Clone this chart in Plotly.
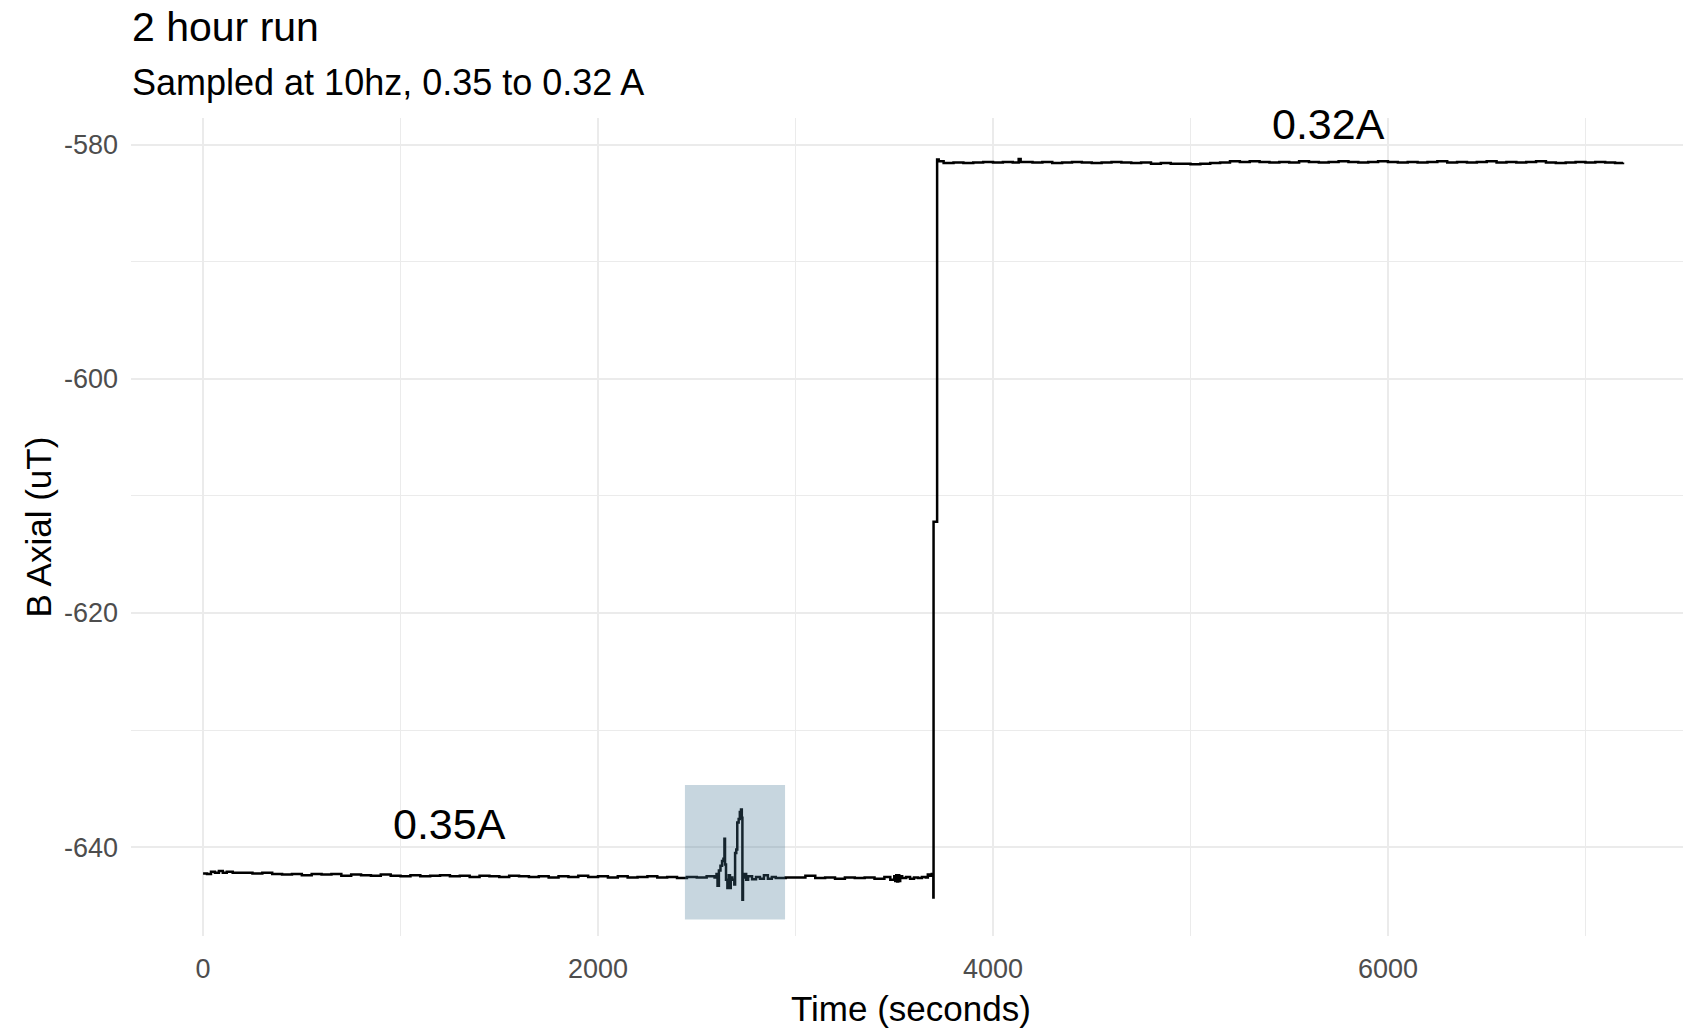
import plotly.graph_objects as go

# ---- data ----
t_s = [
    0, 20, 40, 60, 80, 100, 120, 150, 200, 250, 300, 350, 400, 450, 500, 550,
    600, 650, 700, 750, 800, 850, 900, 950, 1000, 1050, 1100, 1150, 1200, 1250,
    1300, 1350, 1400, 1450, 1500, 1550, 1600, 1650, 1700, 1750, 1800, 1850,
    1900, 1950, 2000, 2050, 2100, 2150, 2200, 2250, 2300, 2350, 2400, 2450,
    2500, 2550, 2590,
    2600, 2605, 2612, 2620, 2628, 2635, 2640, 2643, 2648, 2655, 2662, 2668,
    2672, 2680, 2690, 2694, 2700, 2705, 2712, 2718, 2724, 2728, 2731, 2734,
    2740, 2750, 2760, 2780, 2800, 2820, 2840, 2860, 2880, 2900, 2950, 3000,
    3050, 3100, 3150, 3200, 3250, 3300, 3350, 3400, 3450, 3480, 3500, 3505,
    3510, 3515, 3520, 3525, 3530, 3540, 3560, 3580, 3600, 3620, 3640, 3660,
    3670, 3680, 3690, 3695, 3698, 3699, 3716, 3717, 3725,
    3750, 3800, 3850, 3900, 3950, 4000, 4050, 4100, 4130, 4140, 4200, 4250,
    4300, 4350, 4400, 4450, 4500, 4550, 4600, 4650, 4700, 4750, 4800, 4850,
    4900, 4950, 5000, 5050, 5100, 5150, 5200, 5250, 5300, 5350, 5400, 5450,
    5500, 5550, 5600, 5650, 5700, 5750, 5800, 5850, 5900, 5950, 6000, 6050,
    6100, 6150, 6200, 6250, 6300, 6350, 6400, 6450, 6500, 6550, 6600, 6650,
    6700, 6750, 6800, 6850, 6900, 6950, 7000, 7050, 7100, 7150, 7190,
]
b_axial = [
    -642.25, -642.3, -642.1, -642.2, -642.05, -642.2, -642.1, -642.2, -642.2,
    -642.25, -642.2, -642.3, -642.35, -642.3, -642.4, -642.3, -642.35, -642.3,
    -642.45, -642.35, -642.4, -642.45, -642.35, -642.45, -642.5, -642.4,
    -642.5, -642.45, -642.4, -642.5, -642.45, -642.55, -642.45, -642.5,
    -642.55, -642.45, -642.5, -642.55, -642.5, -642.6, -642.5, -642.55,
    -642.45, -642.55, -642.5, -642.6, -642.5, -642.6, -642.55, -642.5, -642.6,
    -642.55, -642.65, -642.55, -642.6, -642.5, -642.6,
    -642.3, -643.3, -642.0, -641.6, -641.2, -641.0, -639.3, -641.5, -642.8,
    -643.5, -642.4, -643.5, -642.6, -642.8, -643.2, -640.5, -640.2, -637.9,
    -637.6, -637.0, -636.8, -637.5, -644.5, -642.6, -642.3, -642.8, -642.5,
    -642.75, -642.55, -642.7, -642.4, -642.7, -642.55, -642.65, -642.6, -642.6,
    -642.45, -642.65, -642.6, -642.7, -642.6, -642.65, -642.6, -642.7,
    -642.55, -642.8, -642.5, -642.9, -642.4, -642.95, -642.4, -642.9, -642.5,
    -642.65, -642.55, -642.7, -642.6, -642.65, -642.55, -642.6, -642.35,
    -642.45, -642.3, -642.4, -644.3, -612.2, -612.2, -581.25, -581.4,
    -581.55, -581.5, -581.55, -581.5, -581.45, -581.5, -581.45, -581.5,
    -581.2, -581.45, -581.5, -581.45, -581.55, -581.5, -581.45, -581.5,
    -581.55, -581.5, -581.45, -581.5, -581.55, -581.5, -581.6, -581.55,
    -581.6, -581.6, -581.65, -581.6, -581.55, -581.5, -581.4, -581.45, -581.4,
    -581.45, -581.5, -581.45, -581.5, -581.4, -581.45, -581.5, -581.45, -581.4,
    -581.45, -581.5, -581.45, -581.4, -581.45, -581.5, -581.45, -581.5,
    -581.45, -581.4, -581.5, -581.45, -581.5, -581.45, -581.4, -581.5, -581.45,
    -581.5, -581.45, -581.4, -581.5, -581.55, -581.5, -581.45, -581.5, -581.45,
    -581.5, -581.55, -581.5,
]

x_ticks = [0, 2000, 4000, 6000]
y_ticks = [-640, -620, -600, -580]

label_text = ["0.35A", "0.32A"]
label_t = [1250, 5700]
label_b = [-638.0, -578.2]

highlight_t = [2440, 2947]
highlight_b = [-646.2, -634.7]

TITLE = "2 hour run"
SUBTITLE = "Sampled at 10hz, 0.35 to 0.32 A"
X_TITLE = "Time (seconds)"
Y_TITLE = "B Axial (uT)"

FONT = "Liberation Sans, Arial, sans-serif"

fig = go.Figure()
fig.add_trace(go.Scatter(
    x=t_s, y=b_axial, mode="lines", line=dict(color="black", width=2.5, shape="hv"),
    showlegend=False, hoverinfo="x+y",
))

fig.add_shape(type="rect", xref="x", yref="y",
              x0=highlight_t[0], x1=highlight_t[1],
              y0=highlight_b[0], y1=highlight_b[1],
              fillcolor="rgba(70,120,150,0.3)", line=dict(width=0), layer="above")

for txt, tx, ty in zip(label_text, label_t, label_b):
    fig.add_annotation(x=tx, y=ty, xref="x", yref="y", text=txt, showarrow=False,
                       font=dict(family=FONT, size=43, color="black"),
                       xanchor="center", yanchor="middle", borderpad=0)

# titles
fig.add_annotation(x=0.0, y=1.1115, xref="paper", yref="paper", text=TITLE,
                   showarrow=False, xanchor="left", yanchor="middle", borderpad=0,
                   font=dict(family=FONT, size=41, color="black"))
fig.add_annotation(x=0.0, y=1.0433, xref="paper", yref="paper", text=SUBTITLE,
                   showarrow=False, xanchor="left", yanchor="middle", borderpad=0,
                   font=dict(family=FONT, size=36, color="black"))
fig.add_annotation(x=0.5026, y=-0.0892, xref="paper", yref="paper", text=X_TITLE,
                   showarrow=False, xanchor="center", yanchor="middle", borderpad=0,
                   font=dict(family=FONT, size=35, color="black"))
fig.add_annotation(x=-0.0602, y=0.5, xref="paper", yref="paper", text=Y_TITLE,
                   showarrow=False, xanchor="center", yanchor="middle", textangle=-90,
                   borderpad=0, font=dict(family=FONT, size=35, color="black"))

grid_major = "#ebebeb"
fig.update_xaxes(
    range=[-365, 7494], tickvals=x_ticks, ticktext=[str(v) for v in x_ticks],
    showgrid=True, gridcolor=grid_major, gridwidth=1.6, zeroline=False,
    showline=False, ticks="", ticklabelstandoff=14,
    tickfont=dict(family=FONT, size=27, color="#4d4d4d"),
    minor=dict(dtick=1000, tick0=1000, showgrid=True, gridcolor=grid_major, gridwidth=1.2),
)
fig.update_yaxes(
    range=[-647.6, -577.7], tickvals=y_ticks, ticktext=[str(v) for v in y_ticks],
    showgrid=True, gridcolor=grid_major, gridwidth=1.6, zeroline=False,
    showline=False, ticks="", ticklabelstandoff=12,
    tickfont=dict(family=FONT, size=27, color="#4d4d4d"),
    minor=dict(dtick=10, tick0=-590, showgrid=True, gridcolor=grid_major, gridwidth=1.2),
)

fig.update_layout(
    width=1683, height=1028,
    margin=dict(l=131, r=0, t=118, b=92),
    paper_bgcolor="white", plot_bgcolor="white",
    font=dict(family=FONT),
)

# remove the browser's default 8px body margin so the figure fills the window
fig.write_html("out.html", config={"displayModeBar": False},
               post_script="document.body.style.margin='0';document.body.style.overflow='hidden';")
